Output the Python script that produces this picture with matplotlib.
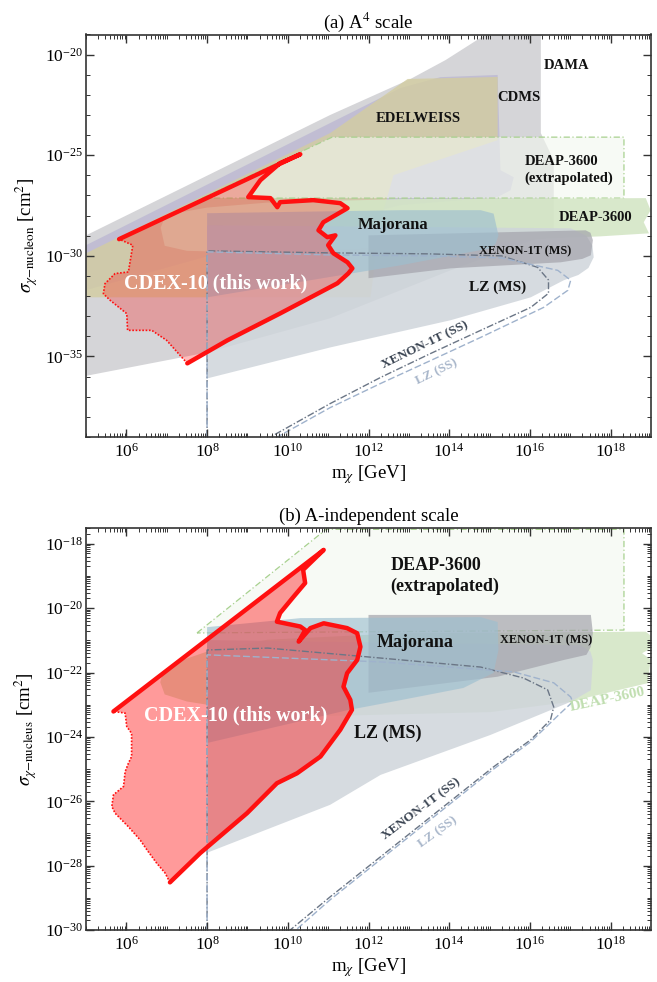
import numpy as np
import matplotlib
matplotlib.use('Agg')
import matplotlib.pyplot as plt
from matplotlib.ticker import FixedLocator, FuncFormatter, NullFormatter

plt.rcParams['font.family'] = ['Liberation Serif', 'DejaVu Serif']
plt.rcParams['mathtext.fontset'] = 'stix'

# ── 데이터 (log10 m [GeV], log10 sigma [cm^2]) ──────────────────────
# (a) A^4 scale  : sigma_chi-nucleon
dama_a_m = [4.9, 11.05, 13.04, 13.91, 14.85, 14.9, 16.27, 16.27, 16.59, 16.59, 14.03, 11.05, 8.0, 4.9]
dama_a_s = [-29.08, -23.0, -21.21, -20.27, -19.07, -18.9, -18.9, -23.9, -25.24, -28.83, -30.72, -33.1, -34.8, -36.0]

cdms_a_m = [4.9, 11.05, 12.79, 13.78, 15.20, 15.27, 15.60, 15.52, 15.20, 12.79, 10.31, 4.9]
cdms_a_s = [-29.57, -23.40, -21.66, -21.12, -21.01, -25.74, -26.09, -26.74, -27.08, -27.48, -28.73, -31.76]

edel_a_m = [4.9, 11.05, 12.97, 15.20, 15.20, 12.62, 12.30, 12.05, 4.9]
edel_a_s = [-29.97, -23.9, -21.21, -21.11, -24.25, -25.99, -28.23, -32.06, -32.06]

deapx_a_m = [7.88, 11.10, 18.33, 18.33, 7.88]
deapx_a_s = [-27.13, -24.10, -24.10, -27.13, -27.13]

deap_a_m = [6.85, 6.95, 7.3, 8.0, 9.5, 12.79, 18.87, 18.99, 18.82, 18.95, 17.75, 16.59, 14.03, 11.05, 8.5, 7.5, 6.95]
deap_a_s = [-28.6, -28.1, -27.85, -27.6, -27.35, -27.18, -27.13, -27.73, -28.33, -28.88, -29.03, -29.12, -29.47, -29.7,
            -29.8, -29.75, -29.5]

lz_a_m = [8.0, 17.01, 17.40, 17.55, 17.58, 17.45, 17.20, 16.84, 16.02, 14.03, 11.05, 8.0]
lz_a_s = [-28.48, -28.63, -29.0, -29.5, -30.07, -30.6, -30.95, -31.21, -32.06, -33.20, -34.55, -36.09]

xe_a_m = [12.0, 17.38, 17.50, 17.56, 17.51, 17.30, 16.76, 14.03, 12.0]
xe_a_s = [-28.98, -28.73, -28.85, -29.22, -29.97, -30.15, -30.32, -30.62, -31.11]

maj_a_m = [8.0, 12.79, 14.78, 15.10, 15.22, 15.15, 15.02, 12.79, 8.0]
maj_a_s = [-27.88, -27.73, -27.73, -27.90, -28.98, -29.40, -29.62, -30.47, -32.06]

xess_a_m = [8.0, 8.0, 11.0, 13.5, 15.3, 16.19, 16.46, 16.46, 16.02, 14.78, 13.54, 12.30, 11.05, 9.57]
xess_a_s = [-39.0, -29.75, -29.85, -29.9, -30.0, -30.57, -31.2, -31.86, -32.56, -33.70, -34.85, -36.04, -37.34, -39.0]

lzss_a_m = [8.0, 8.0, 11.0, 13.5, 15.3, 16.69, 17.01, 16.94, 16.34, 14.78, 13.54, 12.30, 11.05, 9.74]
lzss_a_s = [-39.0, -29.8, -29.95, -30.0, -30.1, -30.72, -31.21, -31.71, -32.56, -34.05, -35.20, -36.34, -37.54, -39.0]

cdex_a_thick_m = [5.82, 10.31, 9.81, 9.32, 9.02, 9.57, 9.74, 9.81, 10.63, 11.30, 11.48, 10.88, 10.76, 10.98,
                  11.18, 11.0, 11.13, 11.48, 11.60, 11.50, 11.23, 9.81, 8.50, 7.51]
cdex_a_thick_s = [-29.17, -24.95, -25.39, -26.24, -27.08, -27.13, -27.58, -27.33, -27.23, -27.38, -27.63, -28.33, -28.73, -29.07,
                  -28.98, -29.47, -29.87, -30.32, -30.62, -30.87, -31.36, -32.86, -34.20, -35.34]
cdex_a_dot_m = [7.51, 7.37, 7.00, 6.63, 6.03, 6.01, 5.60, 5.43, 5.47, 5.72, 6.05, 6.16, 5.82]
cdex_a_dot_s = [-35.34, -35.03, -34.20, -33.70, -33.70, -32.87, -32.21, -31.88, -31.38, -30.88, -30.80, -29.47, -29.17]

# (b) A-independent scale : sigma_chi-nucleus
deapx_b_m = [7.75, 10.95, 18.33, 18.33, 7.75]
deapx_b_s = [-20.77, -17.55, -17.55, -20.68, -20.77]

deap_b_m = [6.84, 6.92, 7.3, 8.0, 9.5, 12.79, 18.87, 18.99, 18.99, 18.78, 18.99, 18.92, 16.94, 15.02, 11.05, 8.5, 7.5, 6.95]
deap_b_s = [-22.3, -21.95, -21.65, -21.35, -20.98, -20.78, -20.73, -20.85, -21.25, -21.40, -21.60, -22.33, -22.92, -23.23,
            -23.35, -23.1, -22.9, -22.68]

lz_b_m = [8.0, 17.26, 17.50, 17.56, 17.51, 17.01, 15.02, 12.30, 11.05, 8.0]
lz_b_s = [-20.99, -21.15, -21.35, -21.61, -22.55, -22.91, -23.94, -25.18, -26.11, -27.60]

xe_b_m = [12.0, 17.51, 17.56, 17.51, 17.40, 16.84, 15.20, 12.0]
xe_b_s = [-20.21, -20.21, -20.77, -21.20, -21.45, -21.61, -22.13, -22.63]

maj_b_m = [8.0, 10.31, 14.78, 15.20, 15.22, 15.10, 14.35, 12.79, 11.48, 8.0]
maj_b_s = [-20.59, -20.31, -20.28, -20.43, -21.30, -22.01, -22.48, -22.86, -23.17, -24.19]

xess_b_m = [8.0, 8.0, 9.5, 12.3, 14.78, 15.84, 16.44, 16.59, 16.51, 16.02, 15.1, 11.05, 10.06]
xess_b_s = [-30.0, -21.3, -21.24, -21.55, -21.83, -22.17, -22.54, -23.07, -23.47, -24.09, -24.93, -28.97, -30.0]

lzss_b_m = [8.0, 8.0, 12.3, 15.6, 16.59, 17.01, 17.06, 16.76, 16.02, 15.1, 11.05, 10.2]
lzss_b_s = [-30.0, -21.45, -21.67, -21.98, -22.32, -22.76, -22.91, -23.26, -24.15, -25.0, -29.06, -30.0]

cdex_b_thick_m = [5.68, 10.89, 10.38, 10.43, 10.14, 9.81, 9.73, 10.31, 10.43, 10.27, 10.56, 10.89, 11.47, 11.72,
                  11.80, 11.72, 11.47, 11.38, 11.55, 11.59, 11.30, 10.81, 10.23, 9.73, 8.99, 7.83, 7.08]
cdex_b_thick_s = [-23.21, -18.19, -18.81, -19.22, -19.65, -20.15, -20.42, -20.57, -20.68, -21.04, -20.62, -20.47, -20.62, -20.78,
                  -21.20, -21.61, -22.02, -22.44, -22.85, -23.16, -23.78, -24.61, -25.13, -25.44, -26.37, -27.61, -28.52]
cdex_b_dot_m = [7.08, 6.96, 6.75, 6.51, 6.34, 6.05, 5.72, 5.64, 5.68, 5.93, 5.97, 6.05, 6.13, 6.13, 6.01, 5.97, 5.68]
cdex_b_dot_s = [-28.52, -28.23, -27.92, -27.51, -27.20, -26.79, -26.37, -26.16, -25.80, -25.54, -25.08, -24.82, -24.61,
                -23.89, -23.68, -23.26, -23.21]

# ── 색 ────────────────────────────────────────────────────
C_DAMA = '#d5d5d8'
C_CDMS = '#bcb8d2'
C_EDEL = '#d3cda0'
C_DEAPX = '#f3f8ef'
C_DEAPX_EDGE = '#a8d18f'
C_DEAP = '#d4e6c6'
C_LZ = '#cfd5db'
C_XE = '#a3a3ab'
C_MAJ = '#9dbfd0'
C_XESS = '#6b7686'
C_LZSS = '#9fb2cc'
RED = '#ff1010'


def L(m, s):
    return 10.0**np.asarray(m), 10.0**np.asarray(s)


def region(ax, m, s, color, alpha=1.0, z=1.0):
    x, y = L(m, s)
    ax.fill(x, y, color=color, alpha=alpha, lw=0, zorder=z)


def txt(ax, lm, ls, s, size, color='#111111', rot=0, weight='bold', ha='center', **kw):
    ax.text(10**lm, 10**ls, s, fontsize=size, color=color, rotation=rot, fontweight=weight,
            ha=ha, va='center', rotation_mode='anchor', zorder=15, **kw)


def exp_fmt(v, p):
    return r'$\mathdefault{10^{%d}}$' % int(round(np.log10(v)))


def style_axes(ax, ylim, ymaj, ymin_ticks):
    ax.set_xscale('log')
    ax.set_yscale('log')
    ax.set_xlim(1e5, 1e19)
    ax.set_ylim(*ylim)
    ax.xaxis.set_major_locator(FixedLocator([10.0**k for k in range(6, 19, 2)]))
    ax.xaxis.set_minor_locator(FixedLocator([s * 10.0**k for k in range(5, 19) for s in range(1, 10)]))
    ax.yaxis.set_major_locator(FixedLocator(ymaj))
    ax.yaxis.set_minor_locator(FixedLocator(ymin_ticks))
    ax.xaxis.set_major_formatter(FuncFormatter(exp_fmt))
    ax.yaxis.set_major_formatter(FuncFormatter(exp_fmt))
    ax.xaxis.set_minor_formatter(NullFormatter())
    ax.yaxis.set_minor_formatter(NullFormatter())
    ax.tick_params(which='both', direction='in', top=True, right=True, color='#333333')
    ax.tick_params(which='major', length=5.5, width=1.0, labelsize=12.5, pad=4)
    ax.tick_params(axis='y', which='major', pad=2)
    ax.tick_params(which='minor', length=3, width=0.7)
    for sp in ax.spines.values():
        sp.set_linewidth(1.2)
        sp.set_color('#333333')
        sp.set_zorder(30)
    ax.xaxis.set_zorder(30)
    ax.yaxis.set_zorder(30)
    ax.set_xlabel(r'm$_\chi$ [GeV]', fontsize=13.5, labelpad=2)


def draw_ss(ax, xm, xs, lm, ls):
    x, y = L(xm, xs)
    ax.plot(x, y, color=C_XESS, lw=1.0, ls=(0, (5, 1.5, 1, 1.5)), zorder=10)
    x, y = L(lm, ls)
    ax.plot(x, y, color=C_LZSS, lw=1.0, ls=(0, (5, 2)), zorder=10)


def draw_cdex(ax, tm, ts, dm, ds, alpha):
    pm = list(tm) + list(dm)
    ps = list(ts) + list(ds)
    region(ax, pm, ps, RED, alpha=alpha, z=9)
    x, y = L(dm, ds)
    ax.plot(x, y, color=RED, lw=1.2, ls=(0, (1, 1)), zorder=11)
    x, y = L(tm, ts)
    ax.plot(x, y, color=RED, lw=3.2, solid_joinstyle='round', solid_capstyle='round', zorder=12)


def draw_deapx(ax, m, s):
    region(ax, m, s, C_DEAPX, alpha=0.6, z=4)
    x, y = L(m, s)
    ax.plot(x, y, color=C_DEAPX_EDGE, lw=0.9, ls=(0, (5, 2, 1, 2)), zorder=4.5)


fig = plt.figure(figsize=(6.57, 9.82), dpi=100)
ax1 = fig.add_axes([86 / 657, 1 - 437 / 982, 565 / 657, 402.5 / 982])
ax2 = fig.add_axes([86 / 657, 1 - 930 / 982, 565 / 657, 402.3 / 982])

# ── (a) A^4 scale ─────────────────────────────────────────
region(ax1, dama_a_m, dama_a_s, C_DAMA, 1.0, 1)
region(ax1, cdms_a_m, cdms_a_s, C_CDMS, 0.8, 2)
region(ax1, edel_a_m, edel_a_s, C_EDEL, 0.8, 3)
draw_deapx(ax1, deapx_a_m, deapx_a_s)
region(ax1, deap_a_m, deap_a_s, C_DEAP, 0.9, 5)
region(ax1, lz_a_m, lz_a_s, C_LZ, 0.85, 6)
region(ax1, xe_a_m, xe_a_s, C_XE, 0.7, 7)
region(ax1, maj_a_m, maj_a_s, C_MAJ, 0.65, 8)
draw_ss(ax1, xess_a_m, xess_a_s, lzss_a_m, lzss_a_s)
draw_cdex(ax1, cdex_a_thick_m, cdex_a_thick_s, cdex_a_dot_m, cdex_a_dot_s, 0.28)

style_axes(ax1, (1e-39, 1e-19), [10.0**k for k in (-35, -30, -25, -20)],
           [10.0**k for k in range(-39, -18)])
ax1.set_ylabel(r'$\sigma_{\chi\mathrm{-nucleon}}$ [cm$^2$]', fontsize=13.5, labelpad=4)
ax1.set_title(r'(a) A$^4$ scale', fontsize=13.5, pad=5)

txt(ax1, 16.91, -20.52, 'DAMA', 10.5)
txt(ax1, 15.72, -22.11, 'CDMS', 10.5)
txt(ax1, 13.24, -23.15, 'EDELWEISS', 10.5)
txt(ax1, 15.87, -25.74, 'DEAP-3600\n(extrapolated)', 10.5, ha='left', linespacing=1.3)
txt(ax1, 17.63, -28.08, 'DEAP-3600', 10.5)
txt(ax1, 12.62, -28.48, 'Majorana', 12)
txt(ax1, 15.89, -29.77, 'XENON-1T (MS)', 8.8)
txt(ax1, 15.20, -31.56, 'LZ (MS)', 11)
txt(ax1, 8.20, -31.36, 'CDEX-10 (this work)', 14.5, color='white')
txt(ax1, 13.41, -34.45, 'XENON-1T (SS)', 9.5, color='#3a4452', rot=26)
txt(ax1, 13.68, -35.79, 'LZ (SS)', 9.5, color='#a8b6ca', rot=26)

# ── (b) A-independent scale ───────────────────────────────
draw_deapx(ax2, deapx_b_m, deapx_b_s)
region(ax2, deap_b_m, deap_b_s, C_DEAP, 0.9, 5)
region(ax2, lz_b_m, lz_b_s, C_LZ, 0.85, 6)
region(ax2, xe_b_m, xe_b_s, C_XE, 0.7, 7)
region(ax2, maj_b_m, maj_b_s, C_MAJ, 0.65, 8)
draw_ss(ax2, xess_b_m, xess_b_s, lzss_b_m, lzss_b_s)
draw_cdex(ax2, cdex_b_thick_m, cdex_b_thick_s, cdex_b_dot_m, cdex_b_dot_s, 0.42)

style_axes(ax2, (1e-30, 10**-17.5), [10.0**k for k in range(-30, -17, 2)],
           [s * 10.0**k for k in range(-30, -17) for s in range(1, 10)])
ax2.set_ylabel(r'$\sigma_{\chi\mathrm{-nucleus}}$ [cm$^2$]', fontsize=13.5, labelpad=4)
ax2.set_title('(b) A-independent scale', fontsize=13.5, pad=5)

txt(ax2, 12.54, -19.0, 'DEAP-3600\n(extrapolated)', 13, ha='left', linespacing=1.3)
txt(ax2, 13.16, -21.08, 'Majorana', 13)
txt(ax2, 16.39, -20.99, 'XENON-1T (MS)', 8.8)
txt(ax2, 12.47, -23.88, 'LZ (MS)', 13)
txt(ax2, 8.70, -23.32, 'CDEX-10 (this work)', 14.5, color='white')
txt(ax2, 17.93, -22.85, 'DEAP-3600', 11, color='#c0deb0', rot=12)
txt(ax2, 13.31, -26.24, 'XENON-1T (SS)', 9.5, color='#3a4452', rot=37)
txt(ax2, 13.71, -26.95, 'LZ (SS)', 9.5, color='#a8b6ca', rot=36)

fig.savefig('out.png', dpi=100)
